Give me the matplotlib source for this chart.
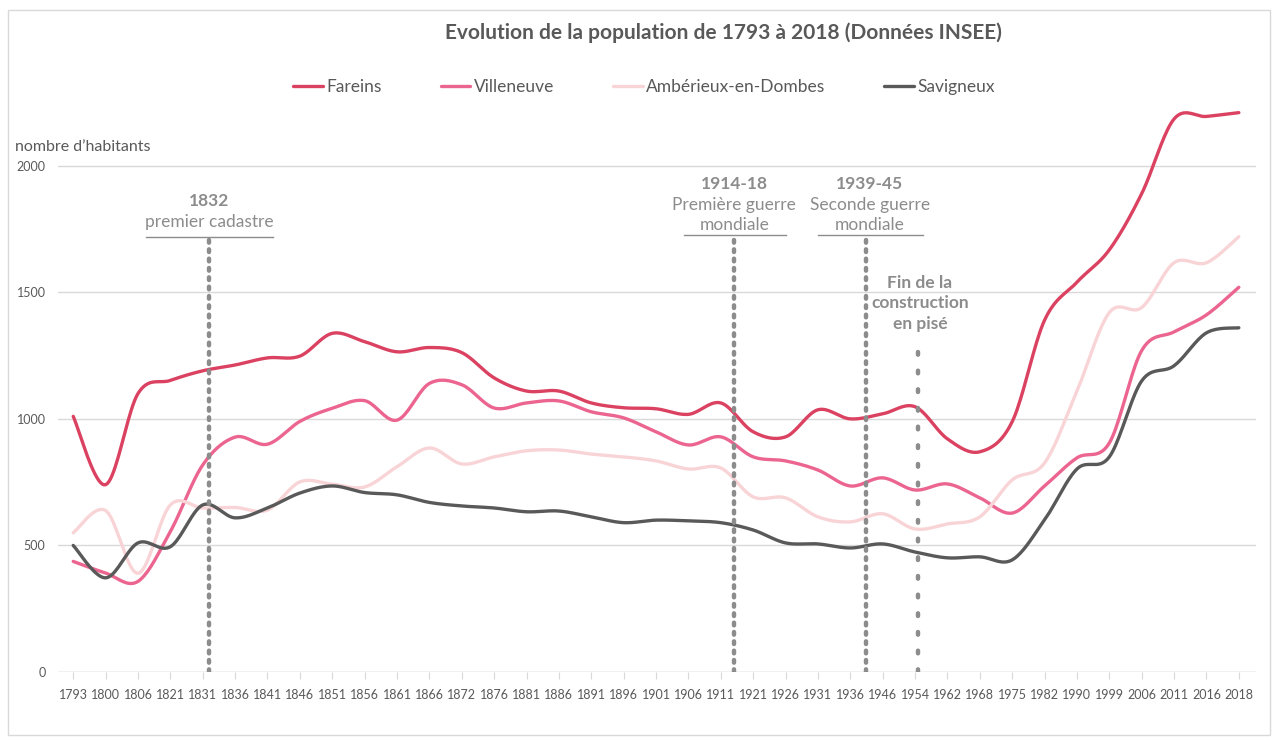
import numpy as np
import matplotlib
matplotlib.use("Agg")
from matplotlib import pyplot as plt
from matplotlib.patches import Rectangle

years = ["1793", "1800", "1806", "1821", "1831", "1836", "1841", "1846", "1851", "1856",
         "1861", "1866", "1872", "1876", "1881", "1886", "1891", "1896", "1901", "1906",
         "1911", "1921", "1926", "1931", "1936", "1946", "1954", "1962", "1968", "1975",
         "1982", "1990", "1999", "2006", "2011", "2016", "2018"]

fareins = [1010, 740, 1100, 1152, 1190, 1213, 1241, 1248, 1338, 1305,
           1265, 1282, 1262, 1162, 1110, 1110, 1063, 1044, 1040, 1018,
           1063, 949, 929, 1036, 1000, 1020, 1048, 921, 870, 989,
           1390, 1540, 1668, 1890, 2185, 2195, 2210]
villeneuve = [437, 391, 358, 555, 818, 928, 900, 990, 1042, 1072,
              995, 1140, 1135, 1043, 1063, 1071, 1028, 1004, 949, 897,
              929, 850, 834, 798, 735, 767, 719, 743, 688, 628,
              735, 846, 905, 1270, 1344, 1411, 1520]
amberieux = [550, 638, 390, 660, 648, 650, 640, 751, 742, 731,
             811, 885, 822, 850, 874, 877, 861, 850, 834, 802,
             806, 692, 688, 613, 593, 625, 565, 585, 613, 759,
             826, 1110, 1420, 1440, 1617, 1617, 1720]
savigneux = [500, 372, 510, 495, 660, 609, 648, 707, 735, 709,
             700, 670, 656, 648, 633, 636, 613, 590, 600, 597,
             590, 561, 510, 506, 490, 506, 474, 451, 455, 443,
             601, 802, 850, 1150, 1210, 1340, 1360]

series_names = ["Fareins", "Villeneuve", "Ambérieux-en-Dombes", "Savigneux"]
series_colors = ["#db4262", "#eb6590", "#f9d4d7", "#595959"]

GREY = "#8c8c8c"
TEXT = "#595959"
GRID = "#d9d9d9"


def smooth(x, y, steps=20):
    # Catmull-Rom style bezier, like Excel's "smoothed line"
    x = np.asarray(x, float)
    y = np.asarray(y, float)
    n = len(x)
    xs, ys = [], []
    for i in range(n - 1):
        p0 = (x[max(i - 1, 0)], y[max(i - 1, 0)])
        p1 = (x[i], y[i])
        p2 = (x[i + 1], y[i + 1])
        p3 = (x[min(i + 2, n - 1)], y[min(i + 2, n - 1)])
        c1 = (p1[0] + (p2[0] - p0[0]) / 6, p1[1] + (p2[1] - p0[1]) / 6)
        c2 = (p2[0] - (p3[0] - p1[0]) / 6, p2[1] - (p3[1] - p1[1]) / 6)
        t = np.linspace(0, 1, steps, endpoint=(i == n - 2))
        a = (1 - t) ** 3
        b = 3 * (1 - t) ** 2 * t
        c = 3 * (1 - t) * t ** 2
        d = t ** 3
        xs.append(a * p1[0] + b * c1[0] + c * c2[0] + d * p2[0])
        ys.append(a * p1[1] + b * c1[1] + c * c2[1] + d * p2[1])
    return np.concatenate(xs), np.concatenate(ys)


plt.rcParams['font.family'] = ['Lato', 'DejaVu Sans']

fig = plt.figure(figsize=(12.8, 7.4), dpi=100)
ax = fig.add_axes([58 / 1280, 68 / 740, 1198 / 1280, 570 / 740])

idx = np.arange(len(years))
for name, vals, col in zip(series_names, [fareins, villeneuve, amberieux, savigneux], series_colors):
    sx, sy = smooth(idx, vals)
    ax.plot(sx, sy, color=col, lw=2.4, label=name, solid_capstyle='round', zorder=3)

ax.set_xlim(-0.47, len(years) - 0.47)
ax.set_ylim(0, 2252)
ax.set_yticks([0, 500, 1000, 1500, 2000])
ax.set_xticks(idx)
ax.set_xticklabels(years)
ax.grid(axis='y', color=GRID, lw=1)
ax.set_axisbelow(True)
for s in ax.spines.values():
    s.set_visible(False)
ax.tick_params(axis='y', length=0, labelsize=9, labelcolor=TEXT, pad=9)
ax.tick_params(axis='x', length=5, color=GRID, labelsize=9, labelcolor=TEXT, pad=7)
ax.axhline(0, color=GRID, lw=1, zorder=1)

# event markers
dot_kw = dict(color=GREY, lw=3.2, linestyle=(0, (0.6, 1.5)), dash_capstyle='round', zorder=4)
ax.plot([4.19, 4.19], [0, 1716], **dot_kw)
ax.plot([20.42, 20.42], [0, 1722], **dot_kw)
ax.plot([24.5, 24.5], [0, 1722], **dot_kw)
ax.plot([26.1, 26.1], [0, 1293], color=GREY, lw=3.2, linestyle=(0, (0.6, 3.6)),
        dash_capstyle='round', zorder=4)

FS = 12.5
ax.plot([2.25, 6.17], [1720, 1720], color=GREY, lw=1)
ax.text(4.19, 1862, "1832", ha='center', va='center', fontsize=FS, fontweight='bold', color=GREY)
ax.text(4.19, 1779, "premier cadastre", ha='center', va='center', fontsize=FS, color=GREY)

ax.plot([18.85, 22.0], [1727, 1727], color=GREY, lw=1)
ax.text(20.42, 1929, "1914-18", ha='center', va='center', fontsize=FS, fontweight='bold', color=GREY)
ax.text(20.42, 1846, "Première guerre", ha='center', va='center', fontsize=FS, color=GREY)
ax.text(20.42, 1767, "mondiale", ha='center', va='center', fontsize=FS, color=GREY)

ax.plot([23.0, 26.25], [1727, 1727], color=GREY, lw=1)
ax.text(24.6, 1929, "1939-45", ha='center', va='center', fontsize=FS, fontweight='bold', color=GREY)
ax.text(24.6, 1846, "Seconde guerre", ha='center', va='center', fontsize=FS, color=GREY)
ax.text(24.6, 1767, "mondiale", ha='center', va='center', fontsize=FS, color=GREY)

ax.text(26.15, 1538, "Fin de la", ha='center', va='center', fontsize=FS, fontweight='bold', color=GREY)
ax.text(26.15, 1459, "construction", ha='center', va='center', fontsize=FS, fontweight='bold', color=GREY)
ax.text(26.15, 1376, "en pisé", ha='center', va='center', fontsize=FS, fontweight='bold', color=GREY)

fig.text(15 / 1280, 1 - 147 / 740, "nombre d\u2019habitants", ha='left', va='center',
         fontsize=11.5, color=TEXT)
fig.text(723 / 1280, 1 - 33 / 740, "Evolution de la population de 1793 à 2018 (Données INSEE)",
         ha='center', va='center', fontsize=15, fontweight='bold', color=TEXT)

leg = fig.legend(loc='center', bbox_to_anchor=(644 / 1280, 1 - 87 / 740), ncol=4, frameon=False,
                 fontsize=12.5, handlelength=1.7, handletextpad=0.2, columnspacing=3.4)
for t in leg.get_texts():
    t.set_color(TEXT)

fig.patches.append(Rectangle((8 / 1280, 5 / 740), 1262 / 1280, 725 / 740, transform=fig.transFigure,
                             fill=False, edgecolor=GRID, lw=1))

fig.savefig("out.png", dpi=100)
